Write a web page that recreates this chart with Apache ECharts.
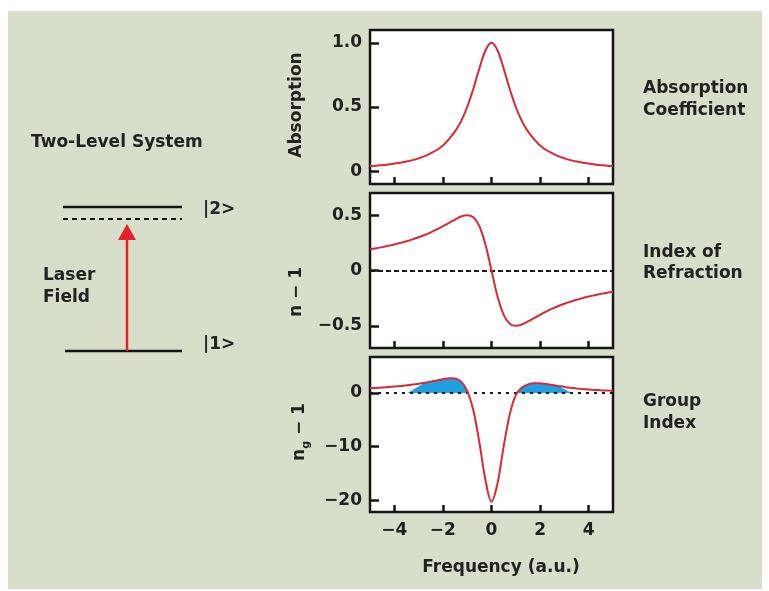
<!DOCTYPE html>
<html>
<head>
<meta charset="utf-8">
<script src="https://cdn.jsdelivr.net/npm/echarts@6/dist/echarts.min.js"></script>
<style>
  html, body { margin: 0; padding: 0; background: #ffffff; }
  #chart { width: 769px; height: 591px; }
</style>
</head>
<body>
<div id="chart"></div>
<script>
// Frequency detuning (arbitrary units)
const freq = [-5, -4.75, -4.5, -4.25, -4, -3.75, -3.5, -3.25, -3, -2.75, -2.5, -2.25, -2, -1.75, -1.5, -1.25, -1, -0.75, -0.5, -0.25,
  0, 0.25, 0.5, 0.75, 1, 1.25, 1.5, 1.75, 2, 2.25, 2.5, 2.75, 3, 3.25, 3.5, 3.75, 4, 4.25, 4.5, 4.75, 5];

// Absorption coefficient
const absorption = [0.038, 0.042, 0.047, 0.052, 0.059, 0.066, 0.075, 0.086, 0.1, 0.117, 0.14, 0.165, 0.2, 0.25, 0.31, 0.39, 0.5, 0.64, 0.8, 0.94,
  1.0, 0.94, 0.8, 0.64, 0.5, 0.39, 0.31, 0.25, 0.2, 0.165, 0.14, 0.117, 0.1, 0.086, 0.075, 0.066, 0.059, 0.052, 0.047, 0.042, 0.038];

// Index of refraction, n - 1
const refraction = [0.192, 0.2, 0.211, 0.223, 0.235, 0.249, 0.264, 0.281, 0.3, 0.321, 0.345, 0.371, 0.4, 0.43, 0.46, 0.488, 0.5, 0.48, 0.4, 0.235,
  0, -0.235, -0.4, -0.48, -0.5, -0.488, -0.46, -0.43, -0.4, -0.371, -0.345, -0.321, -0.3, -0.281, -0.264, -0.249, -0.235, -0.223, -0.211, -0.2, -0.192];

// Group index, n_g - 1
const groupIndex = [0.85, 0.93, 1.0, 1.1, 1.2, 1.3, 1.42, 1.56, 1.72, 1.9, 2.1, 2.32, 2.55, 2.75, 2.7, 2.1, 0.4, -3.2, -9.2, -16.2,
  -20.3, -16.8, -10.0, -4.0, -0.4, 1.0, 1.6, 1.82, 1.8, 1.65, 1.48, 1.3, 1.12, 0.97, 0.84, 0.73, 0.64, 0.56, 0.5, 0.45, 0.4];

// Shaded (positive) group-index regions: outer edges and the span following the curve
const shadedBands = [
  { from: -3.45, curveFrom: -2.75, curveTo: -1.0, to: -0.95 },
  { from: 1.05, curveFrom: 1.25, curveTo: 2.75, to: 3.3 }
];

// Tick values and labels
const freqTicks = [-4, -2, 0, 2, 4];
const absTicks = [0, 0.5, 1.0];
const absTickLabels = ['0', '0.5', '1.0'];
const refTicks = [-0.5, 0, 0.5];
const refTickLabels = ['\u22120.5', '0', '0.5'];
const grpTicks = [-20, -10, 0];
const grpTickLabels = ['\u221220', '\u221210', '0'];

const FONT = 'DejaVu Sans';
const INK = '#222222';
const RED = '#dc2834';
const BLUE = '#1f9fe0';
const PANEL = '#d7dfcb';
const TEXT_FONT = 'bold 17px "' + FONT + '"';

const pairs = (ys) => freq.map((x, i) => [x, ys[i]]);

const bandData = (b) => {
  const pts = [[b.from, 0]];
  freq.forEach((x, i) => {
    if (x >= b.curveFrom - 1e-9 && x <= b.curveTo + 1e-9) pts.push([x, groupIndex[i]]);
  });
  pts.push([b.to, 0]);
  return pts;
};

const gridBase = {
  left: 370, width: 243, height: 155,
  show: true, backgroundColor: '#ffffff', borderColor: '#151515', borderWidth: 2.5
};

const xAxisBase = (gridIndex, showLabels) => ({
  type: 'value', gridIndex, min: -5, max: 5, position: 'bottom',
  axisLine: { show: false, onZero: false },
  splitLine: { show: false },
  axisTick: { show: true, inside: true, length: 7, customValues: freqTicks,
    lineStyle: { color: '#151515', width: 2.5 } },
  axisLabel: { show: showLabels, customValues: freqTicks, margin: 10,
    fontFamily: FONT, fontWeight: 'bold', fontSize: 17, color: INK,
    formatter: (v) => (v < 0 ? '\u2212' + Math.abs(v) : String(v)) }
});

const yAxisBase = (gridIndex, min, max, ticks, labels) => ({
  type: 'value', gridIndex, min, max, position: 'left',
  axisLine: { show: false, onZero: false },
  splitLine: { show: false },
  axisTick: { show: true, inside: true, length: 9, customValues: ticks,
    lineStyle: { color: '#151515', width: 2.5 } },
  axisLabel: { customValues: ticks, margin: 8,
    fontFamily: FONT, fontWeight: 'bold', fontSize: 17, color: INK,
    formatter: (v) => {
      const k = ticks.findIndex((t) => Math.abs(t - v) < 1e-9);
      return k >= 0 ? labels[k] : '';
    } }
});

const curve = (name, idx, ys, extra) => Object.assign({
  name, type: 'line', xAxisIndex: idx, yAxisIndex: idx,
  data: pairs(ys), smooth: 0.35, showSymbol: false, symbol: 'none',
  lineStyle: { color: RED, width: 2 }, z: 5, silent: true
}, extra || {});

const zeroLine = (dash) => ({
  silent: true, symbol: 'none', label: { show: false },
  lineStyle: { color: '#1a1a1a', width: 2, type: dash },
  data: [{ yAxis: 0 }]
});

const txt = (x, y, text, opts) => ({
  type: 'text', x, y, silent: true,
  style: Object.assign({ text, fill: INK, font: TEXT_FONT,
    textVerticalAlign: 'middle' }, opts || {})
});

const chart = echarts.init(document.getElementById('chart'), null, { renderer: 'canvas' });

chart.setOption({
  backgroundColor: PANEL,
  animation: false,
  grid: [
    Object.assign({ top: 30 }, gridBase, { height: 154 }),
    Object.assign({ top: 193 }, gridBase),
    Object.assign({ top: 357 }, gridBase)
  ],
  xAxis: [xAxisBase(0, false), xAxisBase(1, false), xAxisBase(2, true)],
  yAxis: [
    yAxisBase(0, -0.1, 1.1, absTicks, absTickLabels),
    yAxisBase(1, -0.7, 0.7, refTicks, refTickLabels),
    yAxisBase(2, -22.2, 6.7, grpTicks, grpTickLabels)
  ],
  series: [
    curve('Absorption', 0, absorption),
    curve('n - 1', 1, refraction, { markLine: zeroLine([5, 3]) }),
    ...shadedBands.map((b) => ({
      type: 'line', xAxisIndex: 2, yAxisIndex: 2, data: bandData(b),
      smooth: false, showSymbol: false, symbol: 'none', silent: true,
      lineStyle: { width: 0, opacity: 0 },
      areaStyle: { color: BLUE, opacity: 1, origin: 0 }, z: 2
    })),
    curve('Group index', 2, groupIndex, { markLine: zeroLine([3, 5]) })
  ],
  graphic: [
    // white margin around the panel
    { type: 'rect', shape: { x: 0, y: 0, width: 769, height: 11 }, style: { fill: '#fff' }, silent: true },
    { type: 'rect', shape: { x: 0, y: 0, width: 8, height: 591 }, style: { fill: '#fff' }, silent: true },
    { type: 'rect', shape: { x: 762, y: 0, width: 7, height: 591 }, style: { fill: '#fff' }, silent: true },
    { type: 'rect', shape: { x: 0, y: 589, width: 769, height: 2 }, style: { fill: '#fff' }, silent: true },

    // energy-level diagram
    txt(31, 143, 'Two-Level System'),
    { type: 'line', shape: { x1: 63, y1: 207, x2: 182, y2: 207 }, style: { stroke: '#151515', lineWidth: 2.5 }, silent: true },
    { type: 'line', shape: { x1: 63, y1: 219, x2: 182, y2: 219 }, style: { stroke: '#151515', lineWidth: 2, lineDash: [5, 4] }, silent: true },
    { type: 'line', shape: { x1: 65, y1: 351, x2: 182, y2: 351 }, style: { stroke: '#151515', lineWidth: 2.5 }, silent: true },
    { type: 'line', shape: { x1: 127, y1: 351, x2: 127, y2: 236 }, style: { stroke: '#e8202a', lineWidth: 2.5 }, silent: true },
    { type: 'polygon', shape: { points: [[118, 240], [136, 240], [127, 224]] }, style: { fill: '#e8202a' }, silent: true },
    txt(203, 210, '|2>'),
    txt(203, 345, '|1>'),
    txt(43, 276, 'Laser'),
    txt(43, 298, 'Field'),

    // axis titles
    { type: 'text', x: 297, y: 105, rotation: Math.PI / 2, silent: true,
      style: { text: 'Absorption', fill: INK, font: TEXT_FONT, textAlign: 'center', textVerticalAlign: 'middle' } },
    { type: 'text', x: 297, y: 292, rotation: Math.PI / 2, silent: true,
      style: { text: 'n \u2212 1', fill: INK, font: TEXT_FONT, textAlign: 'center', textVerticalAlign: 'middle' } },
    { type: 'text', x: 297, y: 432, rotation: Math.PI / 2, silent: true,
      style: { text: '{n|n}{g|g}{n| \u2212 1}', textAlign: 'center', textVerticalAlign: 'middle',
        rich: {
          n: { fill: INK, font: TEXT_FONT, lineHeight: 22, verticalAlign: 'bottom' },
          g: { fill: INK, font: 'bold 11px "' + FONT + '"', lineHeight: 22, verticalAlign: 'bottom', padding: [0, 0, -4, 0] }
        } } },
    txt(501, 568, 'Frequency (a.u.)', { textAlign: 'center' }),

    // panel captions
    txt(643, 89, 'Absorption'),
    txt(643, 111, 'Coefficient'),
    txt(643, 253, 'Index of'),
    txt(643, 274, 'Refraction'),
    txt(643, 402, 'Group'),
    txt(643, 424, 'Index')
  ]
});
</script>
</body>
</html>
